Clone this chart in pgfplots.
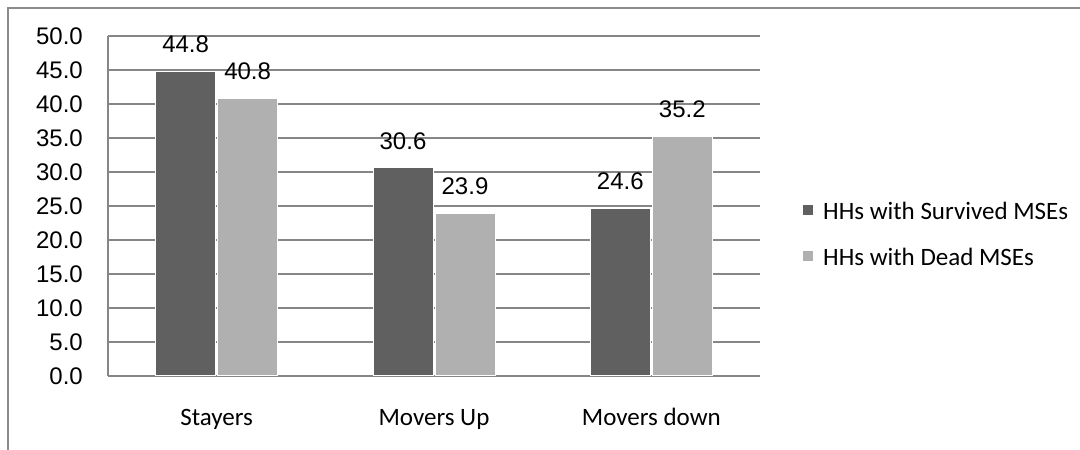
\documentclass[border=0pt]{standalone}
\usepackage{pgfplots}
\pgfplotsset{compat=1.18}
\usepackage{fontspec}
\setmainfont{Liberation Sans}
\newfontfamily\carlito{Carlito}
\definecolor{darkbar}{HTML}{606060}
\definecolor{lightbar}{HTML}{B0B0B0}
\definecolor{gridc}{HTML}{868686}
\definecolor{framec}{HTML}{8C8C8C}
\begin{document}
\begin{tikzpicture}[x=1pt,y=1pt]
\useasboundingbox (0,0) rectangle (1080,450);
\draw[framec, line width=2pt] (8,0) -- (8,442) -- (1080,442);
\begin{axis}[
  at={(108pt,74pt)}, anchor=south west,
  width=652pt, height=340pt, scale only axis,
  xmin=-0.5, xmax=2.5, ymin=0, ymax=50,
  ybar=2pt, bar width=60pt,
  xtick={0,1,2}, xticklabels={Stayers, Movers Up, Movers down},
  ytick={0,5,...,50},
  major tick length=0pt,
  axis x line*=bottom, axis y line*=left,
  axis line style={gridc, line width=1.8pt, -},
  ymajorgrids, major grid style={gridc, line width=1.3pt},
  /pgf/number format/assume math mode=true,
  yticklabel style={font=\fontsize{24}{28}\selectfont, anchor=east, inner sep=0pt, xshift=-25pt,
    /pgf/number format/fixed, /pgf/number format/fixed zerofill, /pgf/number format/precision=1},
  xticklabel style={font=\carlito\fontsize{25}{29}\selectfont, anchor=base, inner sep=0pt, yshift=-50pt},
  nodes near coords={\pgfmathprintnumber[fixed,fixed zerofill,precision=1]{\pgfplotspointmeta}},
  every node near coord/.append style={font=\fontsize{24}{28}\selectfont, inner sep=0pt, anchor=south, yshift=18pt, black},
  legend cell align=left,
  legend style={at={(1.0644,0.5147)}, anchor=north west, draw=none, fill=none, inner sep=0pt,
    font=\carlito\fontsize{25}{29}\selectfont, column sep=9pt, row sep=28pt,
    nodes={inner sep=0pt, text height=18pt, text depth=0pt}},
  legend image code/.code={\fill[#1] (0pt,-5.5pt) rectangle (11pt,5.5pt);},
  clip=false,
]
\addplot[fill=darkbar, draw=white, line width=1pt] coordinates {(0,44.8) (1,30.6) (2,24.6)};
\addplot[fill=lightbar, draw=white, line width=1pt] coordinates {(0,40.8) (1,23.9) (2,35.2)};
\legend{HHs with Survived MSEs, HHs with Dead MSEs}
\end{axis}
\end{tikzpicture}
\end{document}
